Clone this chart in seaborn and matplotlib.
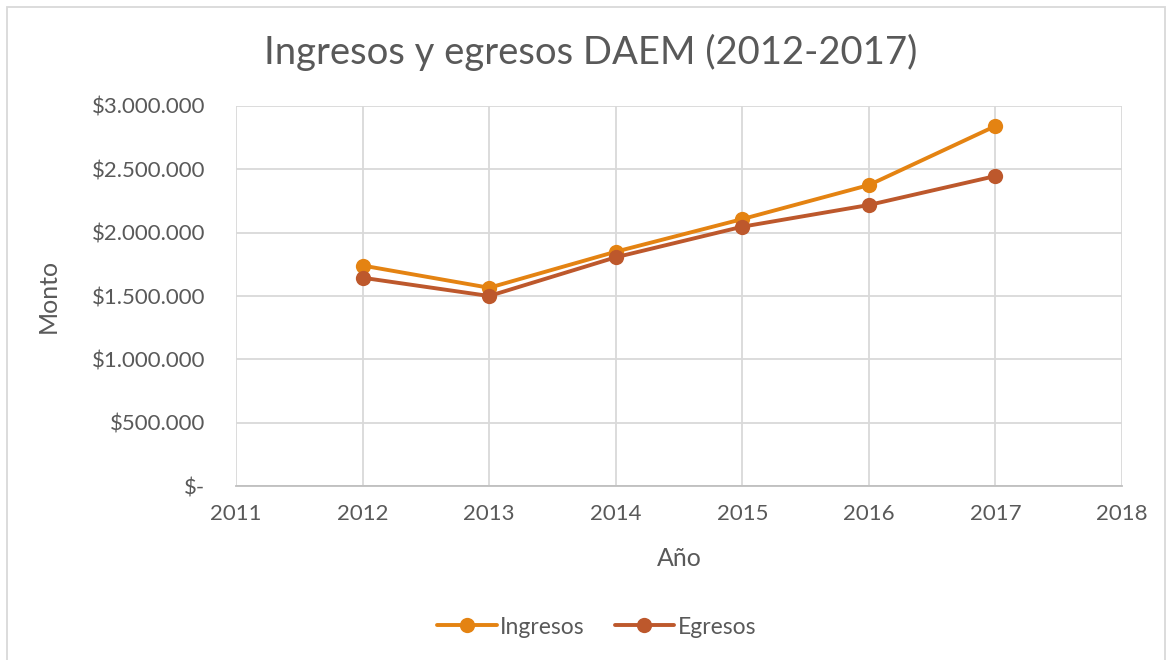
import pandas as pd
import matplotlib.pyplot as plt
import matplotlib.ticker as mticker
from matplotlib.patches import Rectangle
import seaborn as sns

anios = [2012, 2013, 2014, 2015, 2016, 2017]
ingresos = [1740000, 1565000, 1849000, 2106000, 2374000, 2839000]
egresos = [1644000, 1500000, 1805000, 2046000, 2217000, 2445000]

df = pd.DataFrame({"Año": anios, "Ingresos": ingresos, "Egresos": egresos})

sns.set_style("white")
plt.rcParams["font.family"] = ["Lato", "DejaVu Sans"]
gris = "#595959"

fig = plt.figure(figsize=(11.7, 6.6), dpi=100)
ax = fig.add_axes([0.2017, 0.263, 0.7573, 0.577])

sns.lineplot(x="Año", y="Ingresos", data=df, ax=ax, color="#E48312", marker="o",
             markersize=11, markeredgewidth=0, linewidth=2.8, label="Ingresos")
sns.lineplot(x="Año", y="Egresos", data=df, ax=ax, color="#BD582C", marker="o",
             markersize=11, markeredgewidth=0, linewidth=2.8, label="Egresos")

ax.set_xlim(2011, 2018)
ax.set_ylim(0, 3000000)
ax.set_xticks(range(2011, 2019))
ax.set_yticks(range(0, 3000001, 500000))


def pesos(v, pos):
    if v == 0:
        return "$-"
    return "$" + f"{int(v):,}".replace(",", ".")


ax.yaxis.set_major_formatter(mticker.FuncFormatter(pesos))
ax.grid(True, color="#D9D9D9", linewidth=1.3)
ax.set_axisbelow(True)
for s in ["top", "right", "left"]:
    ax.spines[s].set_visible(False)
ax.spines["bottom"].set_color("#BFBFBF")
ax.spines["bottom"].set_linewidth(1.3)
ax.tick_params(axis="both", length=0, labelsize=16, colors=gris)
ax.tick_params(axis="y", pad=22)
ax.tick_params(axis="x", pad=13)

ax.set_xlabel("Año", fontsize=18, color=gris)
ax.set_ylabel("Monto", fontsize=18, color=gris)
ax.xaxis.set_label_coords(0.5, -0.16)
ax.yaxis.set_label_coords(-0.199, 0.5)

fig.suptitle("Ingresos y egresos DAEM (2012-2017)", x=0.505, y=0.921, va="center",
             fontsize=27.5, color=gris)

ax.get_legend().remove()
h, l = ax.get_legend_handles_labels()
fig.legend(h, l, loc="center", bbox_to_anchor=(0.51, 0.05), ncol=2, frameon=False,
           fontsize=16.5, labelcolor=gris, handlelength=2.6, handletextpad=0.15,
           columnspacing=1.3)

fig.patches.append(Rectangle((7 / 1170, -0.05), 1158 / 1170, 1.04,
                             transform=fig.transFigure, fill=False,
                             edgecolor="#D9D9D9", linewidth=1.3))

plt.savefig("out.png", dpi=100)
